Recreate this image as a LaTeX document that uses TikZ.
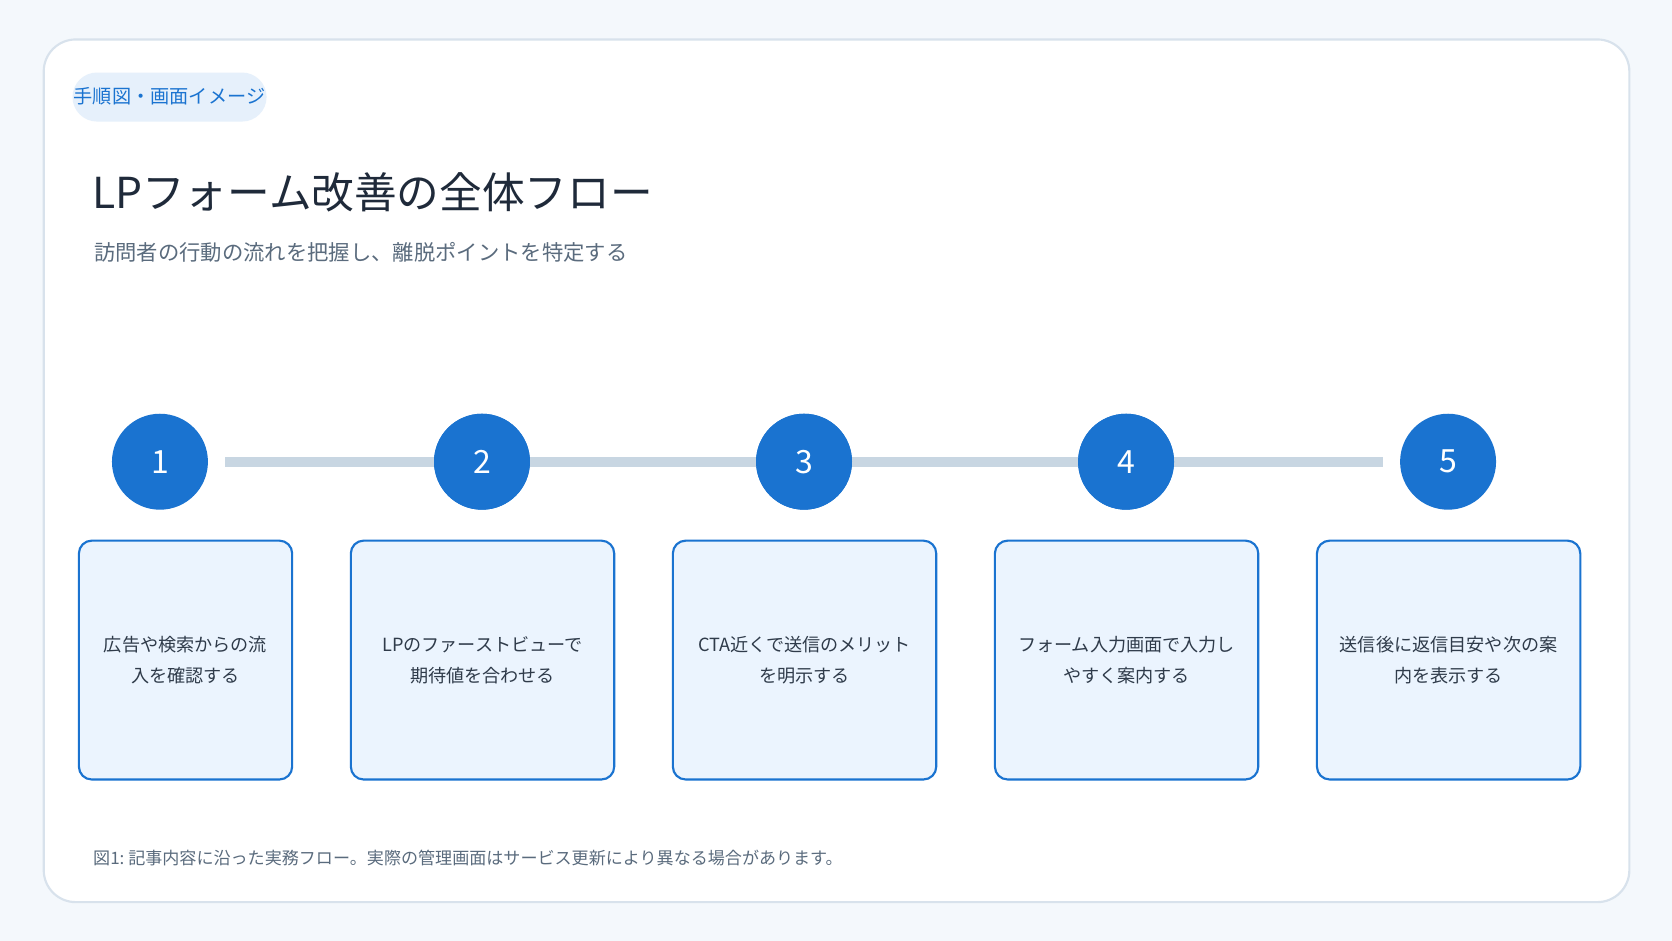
\documentclass[tikz,border=0pt]{standalone}
\usepackage{fontspec}
\setmainfont{Noto Sans CJK JP}
\usetikzlibrary{positioning,calc}
\definecolor{bgpage}{HTML}{F4F8FC}
\definecolor{cardline}{HTML}{D8E2EC}
\definecolor{stepblue}{HTML}{1A73D0}
\definecolor{boxfill}{HTML}{EBF4FE}
\definecolor{pillfill}{HTML}{E6F0FB}
\definecolor{railgray}{HTML}{C8D6E2}
\definecolor{titleink}{HTML}{1F2A3A}
\definecolor{subink}{HTML}{5A6B7D}
\definecolor{bodyink}{HTML}{2F3B4A}
\tikzset{
  stepnum/.style={circle,fill=stepblue,minimum size=45pt,inner sep=0pt,text=white,font=\fontsize{15}{15}\selectfont},
  stepbox/.style={draw=stepblue,line width=1pt,fill=boxfill,rounded corners=6pt,minimum height=112pt,align=center,text=bodyink,font=\fontsize{8.5}{14.5}\selectfont},
}
\begin{document}
\begin{tikzpicture}[x=0.5pt,y=-0.5pt]

% fond et carte
\fill[bgpage] (0,0) rectangle (1568,882);
\useasboundingbox (0,0) rectangle (1568,882);
\draw[cardline,fill=white,line width=1pt,rounded corners=15pt] (41,37) rectangle (1528,846);

% en-tete
\fill[pillfill,rounded corners=11.5pt] (68,68) rectangle (250,114);
\node[text=stepblue,font=\fontsize{9}{9}\selectfont] (tag) at (159,90) {手順図・画面イメージ};
\node[anchor=west,text=titleink,font=\fontsize{20}{20}\selectfont,inner sep=0pt] (title) at (86,180) {LPフォーム改善の全体フロー};
\node[anchor=west,text=subink,font=\fontsize{10}{10}\selectfont,inner sep=0pt] (subtitle) at (88,237) {訪問者の行動の流れを把握し、離脱ポイントを特定する};

% etapes
\node[stepnum] (n1) at (150,433) {1};
\node[stepnum] (n2) at (452,433) {2};
\node[stepnum] (n3) at (754,433) {3};
\node[stepnum] (n4) at (1056,433) {4};
\node[stepnum] (n5) at (1358,433) {5};

\coordinate (railA) at ($(n1.east)+(16,0)$);
\coordinate (railB) at ($(n5.west)+(-16,0)$);
\begin{scope}[on background layer/.style={}]
\draw[railgray,line width=4.5pt] (railA) -- (n2) -- (n3) -- (n4) -- (railB);
\end{scope}
\foreach \k in {2,3,4} \node[stepnum] at (n\k) {\k};

% boites
\node[stepbox,minimum width=100pt] (b1) at (174,619) {広告や検索からの流\\入を確認する};
\node[stepbox,minimum width=123.5pt] (b2) at (452.5,619) {LPのファーストビューで\\期待値を合わせる};
\node[stepbox,minimum width=123.5pt] (b3) at (754.5,619) {CTA近くで送信のメリット\\を明示する};
\node[stepbox,minimum width=123.5pt] (b4) at (1056.5,619) {フォーム入力画面で入力し\\やすく案内する};
\node[stepbox,minimum width=123.5pt] (b5) at (1358.5,619) {送信後に返信目安や次の案\\内を表示する};

% legende
\node[anchor=west,text=subink,font=\fontsize{8}{8}\selectfont,inner sep=0pt] (caption) at (87,805) {図1:\ 記事内容に沿った実務フロー。実際の管理画面はサービス更新により異なる場合があります。};

\end{tikzpicture}
\end{document}
